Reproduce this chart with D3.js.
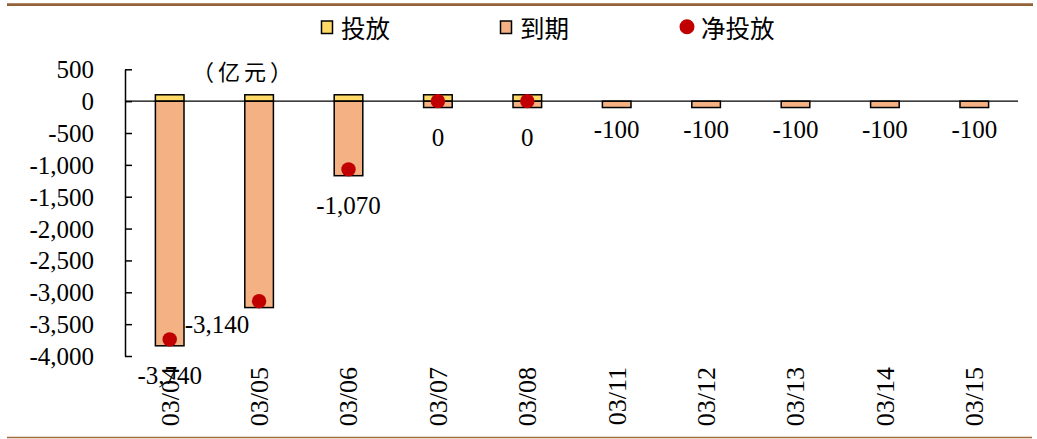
<!DOCTYPE html>
<html>
<head>
<meta charset="utf-8">
<script src="https://cdn.jsdelivr.net/npm/d3@7"></script>
<style>
  html, body { margin: 0; padding: 0; background: #fff; }
  svg { display: block; }
</style>
</head>
<body>
<svg id="chart" width="1037" height="439"></svg>
<script>
// Daily liquidity operations (亿元)
const dates = ["03/04", "03/05", "03/06", "03/07", "03/08", "03/11", "03/12", "03/13", "03/14", "03/15"];
const injection = [100, 100, 100, 100, 100, null, null, null, null, null];     // 投放
const maturity = [-3840, -3240, -1170, -100, -100, -100, -100, -100, -100, -100]; // 到期
const netInjection = [-3740, -3140, -1070, 0, 0, null, null, null, null, null];  // 净投放
const yTicks = [500, 0, -500, -1000, -1500, -2000, -2500, -3000, -3500, -4000];

const serif = "'Liberation Serif', 'Times New Roman', serif";
const cjk = "'Noto Sans CJK SC', sans-serif";
const colInjection = "#FFD966";
const colMaturity = "#F4B183";
const colNet = "#C00000";

const svg = d3.select("#chart");

const fmt = d3.formatLocale({ decimal: ".", thousands: ",", grouping: [3], currency: ["", ""], minus: "-" }).format(",");

const x = d3.scaleBand().domain(dates).range([125, 1019]).paddingInner(0).paddingOuter(0);
const y = d3.scaleLinear().domain([-4000, 500]).range([356, 69.3]);
const barW = x.bandwidth() * 0.32;
const cx = d => x(d) + x.bandwidth() / 2;

// frame rules
svg.append("line").attr("x1", 7).attr("x2", 1033).attr("y1", 4.7).attr("y2", 4.7)
  .attr("stroke", "#936239").attr("stroke-width", 2.8);
svg.append("line").attr("x1", 7).attr("x2", 1032).attr("y1", 437.5).attr("y2", 437.5)
  .attr("stroke", "#A06A3A").attr("stroke-width", 1.6);

// y axis
const yAxis = d3.axisLeft(y).tickValues(yTicks).tickFormat(fmt).tickSizeInner(-7).tickSizeOuter(0).tickPadding(31);
const gy = svg.append("g").attr("transform", "translate(125,0)").call(yAxis);
gy.select(".domain").attr("stroke", "#000").attr("stroke-width", 1.5);
gy.selectAll(".tick line").attr("stroke", "#000").attr("stroke-width", 1.5);
gy.selectAll(".tick text").attr("font-family", serif).attr("font-size", 25).attr("fill", "#000").attr("dy", "0.34em");

// bars: maturity (negative) and injection (positive)
svg.append("g").selectAll("rect").data(dates.map((d, i) => ({ d, v: maturity[i] })).filter(o => o.v != null))
  .join("rect")
  .attr("x", o => cx(o.d) - barW / 2).attr("width", barW)
  .attr("y", o => y(Math.max(0, o.v))).attr("height", o => Math.abs(y(o.v) - y(0)))
  .attr("fill", colMaturity).attr("stroke", "#000").attr("stroke-width", 1.5);

svg.append("g").selectAll("rect").data(dates.map((d, i) => ({ d, v: injection[i] })).filter(o => o.v != null))
  .join("rect")
  .attr("x", o => cx(o.d) - barW / 2).attr("width", barW)
  .attr("y", o => y(o.v)).attr("height", o => Math.abs(y(0) - y(o.v)))
  .attr("fill", colInjection).attr("stroke", "#000").attr("stroke-width", 1.5);

// zero line
svg.append("line").attr("x1", 125).attr("x2", 1018).attr("y1", y(0)).attr("y2", y(0))
  .attr("stroke", "#000").attr("stroke-width", 1.2);

// net injection dots
const netData = dates.map((d, i) => ({ d, v: netInjection[i] })).filter(o => o.v != null);
svg.append("g").selectAll("circle").data(netData).join("circle")
  .attr("cx", o => cx(o.d)).attr("cy", o => y(o.v)).attr("r", 7.2).attr("fill", colNet);

// value labels for the net series (one nudged aside to avoid the bar)
const labelNudge = { "03/05": [-42, -13] };
svg.append("g").selectAll("text").data(netData).join("text")
  .attr("x", o => cx(o.d) + (labelNudge[o.d] ? labelNudge[o.d][0] : 0))
  .attr("y", o => y(o.v) + 36 + (labelNudge[o.d] ? labelNudge[o.d][1] : 0))
  .attr("dy", "0.34em").attr("text-anchor", "middle")
  .attr("font-family", serif).attr("font-size", 25).attr("fill", "#000")
  .text(o => fmt(o.v));

// value labels for maturity-only days
const matOnly = dates.map((d, i) => ({ d, v: maturity[i], n: netInjection[i] })).filter(o => o.n == null);
svg.append("g").selectAll("text").data(matOnly).join("text")
  .attr("x", o => cx(o.d)).attr("y", o => y(o.v) + 22)
  .attr("dy", "0.34em").attr("text-anchor", "middle")
  .attr("font-family", serif).attr("font-size", 25).attr("fill", "#000")
  .text(o => fmt(o.v));

// category labels, rotated
svg.append("g").selectAll("text").data(dates).join("text")
  .attr("transform", d => `translate(${cx(d)},367) rotate(-90)`)
  .attr("dy", "0.34em").attr("text-anchor", "end")
  .attr("font-family", serif).attr("font-size", 26).attr("fill", "#000")
  .text(d => d);

// unit
svg.append("text").attr("x", 192).attr("y", 79.5)
  .attr("font-family", cjk).attr("font-size", 22).attr("letter-spacing", 4).attr("fill", "#000").text("（亿元）");

// legend
const lg = svg.append("g");
lg.append("rect").attr("x", 321.5).attr("y", 21).attr("width", 11).attr("height", 12.5)
  .attr("fill", colInjection).attr("stroke", "#000").attr("stroke-width", 1.5);
lg.append("text").attr("x", 341).attr("y", 37.5).attr("font-family", cjk).attr("font-size", 24.5).text("投放");
lg.append("rect").attr("x", 500.5).attr("y", 21).attr("width", 11).attr("height", 12.5)
  .attr("fill", colMaturity).attr("stroke", "#000").attr("stroke-width", 1.5);
lg.append("text").attr("x", 520).attr("y", 37.5).attr("font-family", cjk).attr("font-size", 24.5).text("到期");
lg.append("circle").attr("cx", 687).attr("cy", 26.8).attr("r", 7.5).attr("fill", colNet);
lg.append("text").attr("x", 701).attr("y", 37.5).attr("font-family", cjk).attr("font-size", 24.5).text("净投放");
</script>
</body>
</html>
